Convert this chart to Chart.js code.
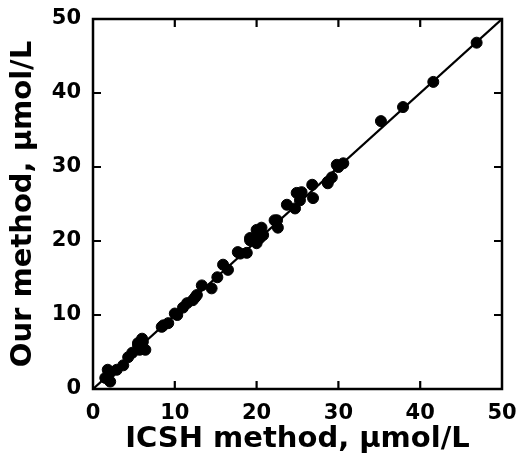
<!DOCTYPE html>
<html lang="en">
<head>
  <meta charset="UTF-8" />
  <title>ICSH method vs our method</title>
  <script src="https://cdn.jsdelivr.net/npm/chart.js"></script>
  <style>
    body { margin: 0; background: #fff; }
    canvas { display: block; }
  </style>
</head>
<body>
  <canvas id="chart" width="521" height="459"></canvas>
  <script>
    // values
    const icsh = [1.5, 2.1, 2.1, 1.8, 2.9, 3.7, 4.3, 4.8, 5.5, 5.5, 6.1, 6.0, 6.4, 5.7, 8.4, 8.6,
                  9.2, 10.0, 10.3, 11.0, 11.5, 12.2, 12.5, 12.7, 13.3, 14.5, 15.2, 15.9, 16.5, 17.7,
                  18.0, 18.8, 19.2, 19.2, 20.0, 20.2, 20.0, 20.6, 20.4, 20.8, 22.2, 22.5, 22.6, 23.7,
                  24.7, 24.9, 25.3, 25.5, 26.8, 26.9, 28.7, 28.7, 29.2, 29.8, 30.0, 30.6, 35.2, 37.9,
                  41.6, 46.9];
    const ours = [1.5, 1.0, 2.2, 2.6, 2.6, 3.2, 4.3, 4.9, 5.9, 6.2, 6.4, 6.8, 5.3, 5.3, 8.4, 8.6,
                  8.9, 10.2, 10.0, 11.0, 11.6, 12.0, 12.4, 12.7, 14.0, 13.6, 15.1, 16.8, 16.1, 18.5,
                  18.3, 18.4, 20.1, 20.4, 19.7, 21.1, 21.5, 21.8, 20.4, 20.8, 22.8, 22.8, 21.8, 24.9,
                  24.4, 26.5, 25.5, 26.6, 27.6, 25.8, 28.0, 27.8, 28.6, 30.3, 30.0, 30.5, 36.2, 38.1,
                  41.5, 46.8];
    const lineX = [0, 50];
    const lineY = [0, 50];
    const tickValues = [0, 10, 20, 30, 40, 50];

    const xTitle = 'ICSH method, \u03bcmol/L';
    const yTitle = 'Our method, \u03bcmol/L';

    const boldFont = { family: '"DejaVu Sans", sans-serif', weight: 'bold' };

    // frame plus inward ticks on all four sides
    const framePlugin = {
      id: 'frame',
      afterDatasetsDraw(chart) {
        const { ctx, chartArea: a, scales } = chart;
        ctx.save();
        ctx.strokeStyle = '#000';
        ctx.lineWidth = 2.5;
        ctx.strokeRect(a.left, a.top, a.right - a.left, a.bottom - a.top);
        ctx.lineWidth = 2.2;
        const len = 8;
        tickValues.slice(1, -1).forEach(v => {
          const px = scales.x.getPixelForValue(v);
          const py = scales.y.getPixelForValue(v);
          ctx.beginPath();
          ctx.moveTo(px, a.bottom); ctx.lineTo(px, a.bottom - len);
          ctx.moveTo(px, a.top); ctx.lineTo(px, a.top + len);
          ctx.moveTo(a.left, py); ctx.lineTo(a.left + len, py);
          ctx.moveTo(a.right, py); ctx.lineTo(a.right - len, py);
          ctx.stroke();
        });
        ctx.restore();
      }
    };

    new Chart(document.getElementById('chart'), {
      type: 'scatter',
      data: {
        datasets: [
          {
            label: 'samples',
            data: icsh.map((x, i) => ({ x: x, y: ours[i] })),
            backgroundColor: '#000',
            borderColor: '#000',
            pointRadius: 5.5,
            pointHoverRadius: 5.5
          },
          {
            label: 'fit',
            type: 'line',
            data: lineX.map((x, i) => ({ x: x, y: lineY[i] })),
            borderColor: '#000',
            borderWidth: 2.2,
            pointRadius: 0,
            fill: false
          }
        ]
      },
      plugins: [framePlugin],
      options: {
        responsive: false,
        animation: false,
        layout: { padding: { top: 19, right: 19, left: 0, bottom: 0 } },
        plugins: { legend: { display: false }, tooltip: { enabled: false } },
        scales: {
          x: {
            type: 'linear', min: 0, max: 50,
            afterFit(s) { s.height = 70; },
            afterBuildTicks(s) { s.ticks = tickValues.map(v => ({ value: v })); },
            grid: { display: false },
            border: { display: false },
            ticks: { color: '#000', font: { ...boldFont, size: 21 }, padding: 4, maxRotation: 0 },
            title: { display: true, text: xTitle, color: '#000', font: { ...boldFont, size: 29 }, padding: { top: 0, bottom: 2 } }
          },
          y: {
            type: 'linear', min: 0, max: 50,
            afterFit(s) { s.width = 93; },
            afterBuildTicks(s) { s.ticks = tickValues.map(v => ({ value: v })); },
            grid: { display: false },
            border: { display: false },
            ticks: { color: '#000', font: { ...boldFont, size: 21 }, padding: 4 },
            title: { display: true, text: yTitle, color: '#000', font: { ...boldFont, size: 29 }, padding: { top: 6, bottom: 0 } }
          }
        }
      }
    });
  </script>
</body>
</html>
